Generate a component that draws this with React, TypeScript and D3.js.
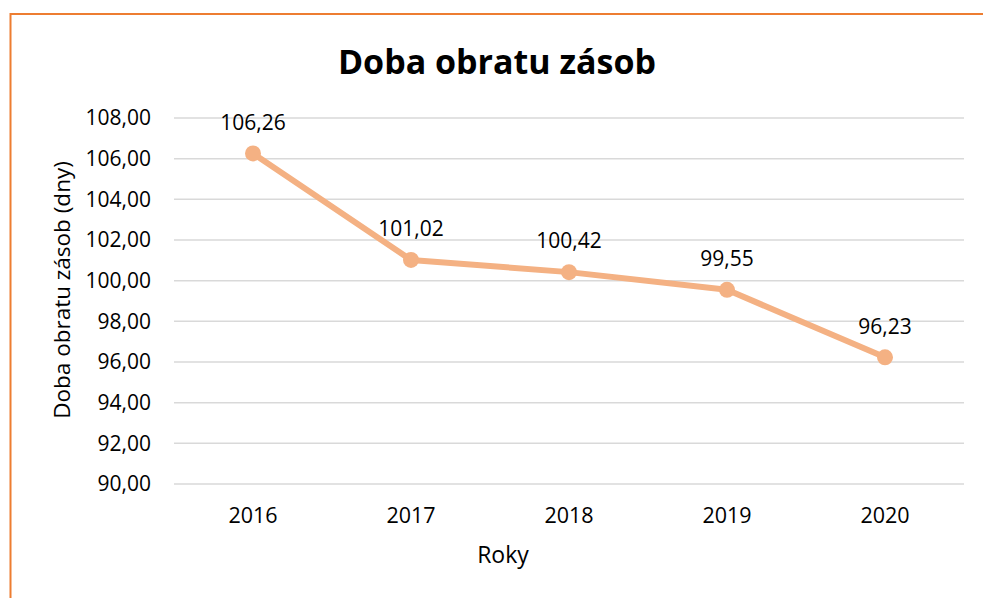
import * as d3 from "d3";

const years = ["2016", "2017", "2018", "2019", "2020"];
const values = [106.26, 101.02, 100.42, 99.55, 96.23];
const yTicks = [90, 92, 94, 96, 98, 100, 102, 104, 106, 108];

const W = 983;
const H = 598;
const font = "'Open Sans', sans-serif";
const fmt = (v: number, d: number) => v.toFixed(d).replace(".", ",");

export default function App() {
  const x = d3.scaleBand().domain(years).range([174, 964]);
  const y = d3.scaleLinear().domain([90, 108]).range([484, 118]);
  const cx = (d: string) => (x(d) ?? 0) + x.bandwidth() / 2;

  const line = d3
    .line<number>()
    .x((d, i) => cx(years[i]))
    .y((d) => y(d));

  return (
    <svg
      width={W}
      height={H}
      style={{ position: "absolute", left: 0, top: 0, display: "block" }}
      fontFamily={font}
    >
      <rect x={0} y={0} width={W} height={H} fill="#fff" />
      <path d={`M10.5,${H} V14 H${W}`} fill="none" stroke="#ED7D31" strokeWidth={2} />

      <text x={497} y={62} dy="0.35em" textAnchor="middle" fontSize={34} fontWeight="bold">
        Doba obratu zásob
      </text>

      {yTicks.map((t) => (
        <g key={t}>
          <line x1={174} x2={964} y1={y(t)} y2={y(t)} stroke="#D9D9D9" strokeWidth={1.5} />
          <text x={151} y={y(t)} dy="0.35em" textAnchor="end" fontSize={21} fill="#000">
            {fmt(t, 2)}
          </text>
        </g>
      ))}

      {years.map((yr) => (
        <text key={yr} x={cx(yr)} y={515} dy="0.35em" textAnchor="middle" fontSize={21.5}>
          {yr}
        </text>
      ))}

      <text x={503} y={555} dy="0.35em" textAnchor="middle" fontSize={23}>
        Roky
      </text>
      <text
        transform={`translate(62,290) rotate(-90)`}
        dy="0.35em"
        textAnchor="middle"
        fontSize={22.5}
      >
        Doba obratu zásob (dny)
      </text>

      <path d={line(values) ?? ""} fill="none" stroke="#F4B183" strokeWidth={6} strokeLinejoin="round" />
      {values.map((v, i) => (
        <g key={i}>
          <circle cx={cx(years[i])} cy={y(v)} r={8} fill="#F4B183" />
          <text x={cx(years[i])} y={y(v) - 31} dy="0.35em" textAnchor="middle" fontSize={21}>
            {fmt(v, 2)}
          </text>
        </g>
      ))}
    </svg>
  );
}
